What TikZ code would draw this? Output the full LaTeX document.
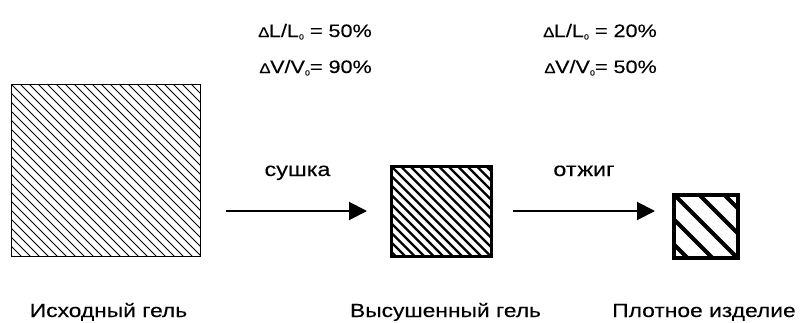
\documentclass[tikz,border=0pt]{standalone}
\usepackage{fontspec}
\setmainfont{Liberation Sans}
\newfontfamily\wide[FakeStretch=1.2,FakeBold=0.2]{Liberation Sans}
\usetikzlibrary{arrows.meta}
\newcommand{\tri}{{\fontsize{14}{14}\selectfont ∆}}
\newcommand{\zer}{{\fontsize{7.5}{7.5}\selectfont\raisebox{-2.5pt}{0}}}
\tikzset{
  hatchbox/.style n args={3}{draw, line width=#3, inner sep=0pt, outer sep=0pt,
    path picture={\foreach \i in {-40,...,40}
      \draw[line width=#2] ([xshift=\i*#1]path picture bounding box.north west) -- ++(250pt,-250pt);}},
  lbl/.style={font=\wide\fontsize{19}{19}\selectfont, inner sep=0pt, anchor=base},
  act/.style={font=\wide\fontsize{19.5}{19.5}\selectfont, inner sep=0pt, anchor=base},
  pct/.style={font=\wide\fontsize{18}{18}\selectfont, inner sep=0pt, anchor=base east},
  flow/.style={line width=2pt, -{Triangle[length=18pt,width=18pt]}},
}
\begin{document}
\begin{tikzpicture}[x=1pt,y=-1pt]
\useasboundingbox (0,0) rectangle (801,322);
% squares
\node[hatchbox={9pt}{1pt}{1.2pt}, minimum width=188.8pt, minimum height=171.8pt] (gel) at (106,170.5) {};
\node[hatchbox={9.5pt}{2.3pt}{3pt}, minimum width=100pt, minimum height=90pt] (dry) at (441.5,211.5) {};
\node[hatchbox={25pt}{4pt}{4pt}, minimum width=63.7pt, minimum height=63.3pt] (dense) at (706,226.3) {};
% arrows
\coordinate (a1s) at (226,211);
\coordinate (a1e) at (367,211);
\coordinate (a2s) at (513,211);
\coordinate (a2e) at (655,211);
\draw[flow] (a1s) -- (a1e);
\draw[flow] (a2s) -- (a2e);
% arrow labels
\node[act] (l1) at (297.5,176) {сушка};
\node[act] (l2) at (584,176) {отжиг};
% percentages
\node[pct] (p1) at (372,37) {\tri L/L\zer\ = 50\%};
\node[pct] (p2) at (372,73) {\tri V/V\zer= 90\%};
\node[pct] (p3) at (657,37) {\tri L/L\zer\ = 20\%};
\node[pct] (p4) at (657,73) {\tri V/V\zer= 50\%};
% bottom labels
\node[lbl] (t1) at (108.5,317) {Исходный гель};
\node[lbl] (t2) at (445.5,317) {Высушенный гель};
\node[lbl] (t3) at (704,317) {Плотное изделие};
\end{tikzpicture}
\end{document}
